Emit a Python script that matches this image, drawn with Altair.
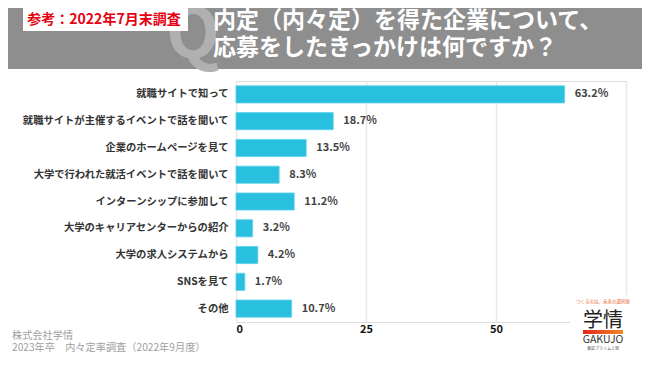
import altair as alt
import pandas as pd

categories = [
    "就職サイトで知って",
    "就職サイトが主催するイベントで話を聞いて",
    "企業のホームページを見て",
    "大学で行われた就活イベントで話を聞いて",
    "インターンシップに参加して",
    "大学のキャリアセンターからの紹介",
    "大学の求人システムから",
    "SNSを見て",
    "その他",
]
values = [63.2, 18.7, 13.5, 8.3, 11.2, 3.2, 4.2, 1.7, 10.7]
x_ticks = [0, 25, 50, 75]

title_line1 = "内定（内々定）を得た企業について、"
title_line2 = "応募をしたきっかけは何ですか？"
badge_text = "参考：2022年7月末調査"
footer_line1 = "株式会社学情"
footer_line2 = "2023年卒　内々定率調査（2022年9月度）"

FONT = "Noto Sans CJK JP"

df = pd.DataFrame({"cat": categories, "val": values})
df["label"] = [f"{v:.1f}%" for v in values]
one = pd.DataFrame({"a": [0]})

y_enc = alt.Y("cat:N", sort=categories, title=None,
              scale=alt.Scale(paddingInner=0.36, paddingOuter=0.18),
              axis=alt.Axis(labelFont=FONT, labelFontSize=10.3, labelFontWeight="bold",
                            labelColor="#333333", domain=False, ticks=False, tickSize=0,
                            labelPadding=8, grid=False, labelLimit=300))
x_enc = alt.X("val:Q", title=None,
              scale=alt.Scale(domain=[0, 75], nice=False),
              axis=alt.Axis(values=x_ticks, labelExpr="datum.value == 75 ? '' : datum.label",
                            labelFont=FONT, labelFontSize=11, labelFontWeight="bold",
                            labelColor="#111111", domain=False, ticks=False, tickSize=0,
                            labelPadding=1, grid=True, gridColor="#e8e8e8", gridWidth=1.5))

base = alt.Chart(df)
bars = base.mark_bar(color="#29c0df", stroke="#5fd0ea", strokeWidth=0.8).encode(y=y_enc, x=x_enc)
vlabels = base.mark_text(align="left", baseline="middle", dx=10, font=FONT, fontSize=11,
                         fontWeight="bold", color="#444444").encode(
    y=alt.Y("cat:N", sort=categories), x="val:Q", text="label:N")

deco = alt.Chart(one)
header = deco.mark_rect(color="#8e8e8e").encode(
    x=alt.value(-240), x2=alt.value(420), y=alt.value(-90), y2=alt.value(-12))
q_letter = deco.mark_text(font=FONT, fontSize=70, fontWeight="bold", color="#b0b0b0",
                          align="center", baseline="middle").encode(
    x=alt.value(-43), y=alt.value(-44), text=alt.value("Q"))
title1 = deco.mark_text(font=FONT, fontSize=23, fontWeight="bold", color="#ffffff",
                        align="left", baseline="middle").encode(
    x=alt.value(-23), y=alt.value(-60), text=alt.value(title_line1))
title2 = deco.mark_text(font=FONT, fontSize=23, fontWeight="bold", color="#ffffff",
                        align="left", baseline="middle").encode(
    x=alt.value(-23), y=alt.value(-33), text=alt.value(title_line2))
badge_box = deco.mark_rect(color="#ffffff").encode(
    x=alt.value(-213), x2=alt.value(-48), y=alt.value(-73), y2=alt.value(-50))
badge = deco.mark_text(font=FONT, fontSize=14, fontWeight="bold", color="#e60012",
                       align="center", baseline="middle").encode(
    x=alt.value(-132), y=alt.value(-61.5), text=alt.value(badge_text))
footer1 = deco.mark_text(font=FONT, fontSize=10.2, color="#a0a0a0", align="left",
                         baseline="middle").encode(
    x=alt.value(-224), y=alt.value(254.5), text=alt.value(footer_line1))
footer2 = deco.mark_text(font=FONT, fontSize=10.2, color="#a0a0a0", align="left",
                         baseline="middle").encode(
    x=alt.value(-224), y=alt.value(267), text=alt.value(footer_line2))

LX = 367
logo_box = deco.mark_rect(color="#ffffff").encode(
    x=alt.value(334), x2=alt.value(404), y=alt.value(214), y2=alt.value(277))
logo_tag = deco.mark_text(font=FONT, fontSize=4.5, color="#e8632a", align="center",
                          baseline="middle").encode(
    x=alt.value(LX), y=alt.value(221), text=alt.value("つくるのは、未来の選択肢"))
logo_main = deco.mark_text(font=FONT, fontSize=20, color="#222222", align="center",
                           baseline="middle").encode(
    x=alt.value(LX), y=alt.value(239.5), text=alt.value("学情"))
logo_bar = deco.mark_rect(color=alt.Gradient(gradient="linear",
                                             stops=[alt.GradientStop(color="#e2231a", offset=0),
                                                    alt.GradientStop(color="#f08a24", offset=1)],
                                             x1=0, x2=1, y1=0, y2=0)).encode(
    x=alt.value(LX - 20), x2=alt.value(LX + 20), y=alt.value(249), y2=alt.value(253))
logo_en = deco.mark_text(font=FONT, fontSize=10.5, color="#333333", align="center",
                         baseline="middle").encode(
    x=alt.value(LX), y=alt.value(259), text=alt.value("GAKUJO"))
logo_sub = deco.mark_text(font=FONT, fontSize=4, color="#555555", align="center",
                          baseline="middle").encode(
    x=alt.value(LX), y=alt.value(267.5), text=alt.value("東証プライム上場"))

chart = alt.layer(
    header, q_letter, title1, title2, badge_box, badge,
    bars, vlabels, footer1, footer2,
    logo_box, logo_tag, logo_main, logo_bar, logo_en, logo_sub,
).properties(
    width=390, height=241,
    padding={"left": 228, "top": 73, "right": 16, "bottom": 36},
    autosize=alt.AutoSizeParams(type="none"),
    background="#ffffff",
).configure_view(stroke=None).configure(font=FONT)

chart.save("out.html", embed_options={"renderer": "svg", "actions": False})
